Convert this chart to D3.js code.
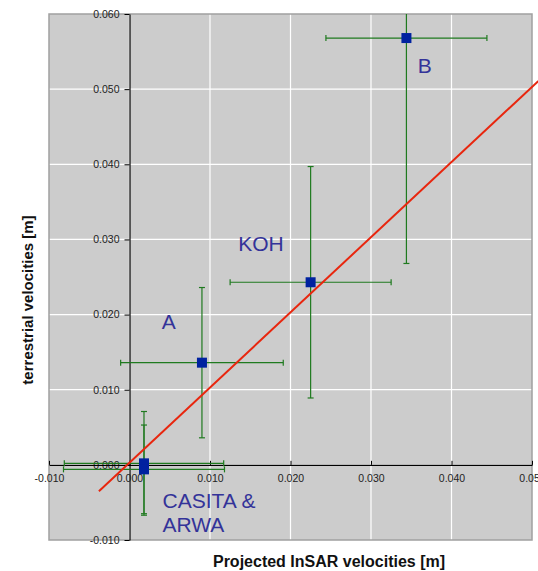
<!DOCTYPE html>
<html>
<head>
<meta charset="utf-8">
<script src="https://cdn.jsdelivr.net/npm/d3@7"></script>
<style>
  body { margin: 0; background: #fff; }
  svg { display: block; font-family: "Liberation Sans", Arial, sans-serif; }
</style>
</head>
<body>
<div id="chart"></div>
<script>
// station values (InSAR vs terrestrial, metres)
var stations = ["B", "KOH", "A", "CASITA", "ARWA"];
var insarVel = [0.0344, 0.0225, 0.0090, 0.0018, 0.0018];
var terrVel = [0.0568, 0.0243, 0.0136, 0.0002, -0.0006];
var insarErr = [0.0100, 0.0100, 0.0101, 0.0099, 0.0100];
var terrErr = [0.0300, 0.0154, 0.0100, 0.0069, 0.0059];

// fitted regression line end points
var fitX = [-0.0038, 0.0508];
var fitY = [-0.0035, 0.0511];

var xTicks = [-0.010, 0.000, 0.010, 0.020, 0.030, 0.040, 0.050];
var yTicks = [-0.010, 0.000, 0.010, 0.020, 0.030, 0.040, 0.050, 0.060];

// station labels, anchored in data units
var labelText = ["B", "KOH", "A", "CASITA &", "ARWA"];
var labelX = [0.0358, 0.0135, 0.0040, 0.0041, 0.0041];
var labelY = [0.0522, 0.0284, 0.0181, -0.0057, -0.0090];

var width = 538, height = 571;
var plot = {left: 49, right: 532, top: 14, bottom: 540};

var svg = d3.select("#chart").append("svg")
    .attr("width", width)
    .attr("height", height);

var xScale = d3.scaleLinear().domain([-0.010, 0.050]).range([plot.left, plot.right]);
var yScale = d3.scaleLinear().domain([-0.010, 0.060]).range([plot.bottom, plot.top]);

// plain hyphen minus like the original
var fmt = function(d) { return d3.format(".3f")(d).replace("\u2212", "-"); };

// plot background
svg.append("rect")
    .attr("x", plot.left).attr("y", plot.top)
    .attr("width", plot.right - plot.left).attr("height", plot.bottom - plot.top)
    .attr("fill", "#cccccc");

// grid
svg.selectAll(".vgrid").data(xTicks.slice(1, -1)).enter().append("line")
    .attr("x1", function(d) { return xScale(d); })
    .attr("x2", function(d) { return xScale(d); })
    .attr("y1", plot.top).attr("y2", plot.bottom)
    .attr("stroke", "#ffffff").attr("stroke-width", 1.2);
svg.selectAll(".hgrid").data(yTicks.slice(1, -1)).enter().append("line")
    .attr("y1", function(d) { return yScale(d); })
    .attr("y2", function(d) { return yScale(d); })
    .attr("x1", plot.left).attr("x2", plot.right)
    .attr("stroke", "#ffffff").attr("stroke-width", 1.2);

// border
svg.append("rect")
    .attr("x", plot.left).attr("y", plot.top)
    .attr("width", plot.right - plot.left).attr("height", plot.bottom - plot.top)
    .attr("fill", "none").attr("stroke", "#a0a0a0").attr("stroke-width", 1.5);

// axes through zero
var yAxis = d3.axisLeft(yScale).tickValues(yTicks).tickFormat(fmt)
    .tickSizeInner(5).tickSizeOuter(0).tickPadding(5);
var xAxis = d3.axisBottom(xScale).tickValues(xTicks).tickFormat(fmt)
    .tickSizeInner(-4).tickSizeOuter(0).tickPadding(10);

var gy = svg.append("g")
    .attr("transform", "translate(" + xScale(0) + ",0)")
    .call(yAxis);
var gx = svg.append("g")
    .attr("transform", "translate(0," + yScale(0) + ")")
    .call(xAxis);

[gx, gy].forEach(function(g) {
    g.selectAll("text").attr("font-size", "10.5px").attr("fill", "#222")
        .attr("font-family", "'Liberation Sans', Arial, sans-serif");
    g.selectAll("line").attr("stroke", "#000");
    g.select(".domain").attr("stroke", "#000").attr("stroke-width", 1.2);
});

// error bars, clipped to the plot
svg.append("clipPath").attr("id", "clip").append("rect")
    .attr("x", plot.left).attr("y", plot.top)
    .attr("width", plot.right - plot.left).attr("height", plot.bottom - plot.top);

var bars = svg.append("g").attr("clip-path", "url(#clip)")
    .attr("stroke", "#1f7a1f").attr("stroke-width", 1.2);
var cap = 3;

stations.forEach(function(s, i) {
    var cx = xScale(insarVel[i]), cy = yScale(terrVel[i]);
    var x0 = xScale(insarVel[i] - insarErr[i]), x1 = xScale(insarVel[i] + insarErr[i]);
    var y0 = yScale(terrVel[i] - terrErr[i]), y1 = yScale(terrVel[i] + terrErr[i]);
    bars.append("line").attr("x1", x0).attr("x2", x1).attr("y1", cy).attr("y2", cy);
    bars.append("line").attr("x1", x0).attr("x2", x0).attr("y1", cy - cap).attr("y2", cy + cap);
    bars.append("line").attr("x1", x1).attr("x2", x1).attr("y1", cy - cap).attr("y2", cy + cap);
    bars.append("line").attr("x1", cx).attr("x2", cx).attr("y1", y0).attr("y2", y1);
    bars.append("line").attr("x1", cx - cap).attr("x2", cx + cap).attr("y1", y0).attr("y2", y0);
    bars.append("line").attr("x1", cx - cap).attr("x2", cx + cap).attr("y1", y1).attr("y2", y1);
});

// regression line
svg.append("path")
    .datum(d3.zip(fitX, fitY))
    .attr("d", d3.line().x(function(d) { return xScale(d[0]); }).y(function(d) { return yScale(d[1]); }))
    .attr("fill", "none").attr("stroke", "#e8260e").attr("stroke-width", 2);

// markers
svg.selectAll(".pt").data(stations).enter().append("rect")
    .attr("x", function(d, i) { return xScale(insarVel[i]) - 5; })
    .attr("y", function(d, i) { return yScale(terrVel[i]) - 5; })
    .attr("width", 10).attr("height", 10)
    .attr("fill", "#0022a0");

// station labels
svg.selectAll(".lbl").data(labelText).enter().append("text")
    .attr("x", function(d, i) { return xScale(labelX[i]); })
    .attr("y", function(d, i) { return yScale(labelY[i]); })
    .attr("font-size", "21px").attr("fill", "#333399")
    .text(function(d) { return d; });

// axis titles
svg.append("text")
    .attr("x", 329).attr("y", 567)
    .attr("text-anchor", "middle").attr("font-size", "16px").attr("font-weight", "bold")
    .attr("fill", "#111")
    .text("Projected InSAR velocities [m]");
svg.append("text")
    .attr("transform", "translate(33,300) rotate(-90)")
    .attr("text-anchor", "middle").attr("font-size", "15px").attr("font-weight", "bold")
    .attr("fill", "#111")
    .text("terrestrial velocities [m]");
</script>
</body>
</html>
